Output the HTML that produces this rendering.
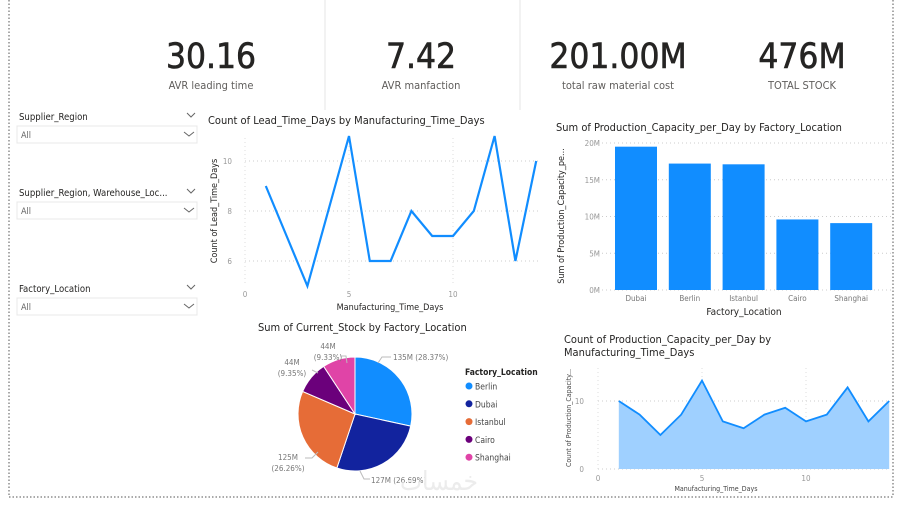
<!DOCTYPE html>
<html><head><meta charset="utf-8"><style>
body{margin:0;background:#fff;width:899px;height:502px;overflow:hidden;font-family:"DejaVu Sans Condensed","Liberation Sans",sans-serif}
svg text{font-family:"DejaVu Sans Condensed","Liberation Sans",sans-serif}
</style></head><body>
<svg id="s" width="899" height="502" xmlns="http://www.w3.org/2000/svg">
<line x1="9" y1="0" x2="9" y2="497" stroke="#555" stroke-dasharray="1.5,2"/>
<line x1="893" y1="0" x2="893" y2="497" stroke="#555" stroke-dasharray="1.5,2"/>
<line x1="9" y1="497" x2="893" y2="497" stroke="#555" stroke-dasharray="1.5,2"/>
<line x1="325" y1="0" x2="325" y2="110" stroke="#e4e4e4"/>
<line x1="520" y1="0" x2="520" y2="110" stroke="#e4e4e4"/>
<g><text x="211" y="68" font-size="35" text-anchor="middle" fill="#252423" stroke="#252423" stroke-width="0.6">30.16</text><text x="211" y="89" font-size="11" text-anchor="middle" fill="#605e5c">AVR leading time</text></g>
<g><text x="421" y="68" font-size="35" text-anchor="middle" fill="#252423" stroke="#252423" stroke-width="0.6">7.42</text><text x="421" y="89" font-size="11" text-anchor="middle" fill="#605e5c">AVR manfaction</text></g>
<g><text x="618" y="68" font-size="35" text-anchor="middle" fill="#252423" stroke="#252423" stroke-width="0.6">201.00M</text><text x="618" y="89" font-size="11" text-anchor="middle" fill="#605e5c">total raw material cost</text></g>
<g><text x="802" y="68" font-size="35" text-anchor="middle" fill="#252423" stroke="#252423" stroke-width="0.6">476M</text><text x="802" y="89" font-size="11" text-anchor="middle" fill="#605e5c">TOTAL STOCK</text></g>
<g id="slicers"></g>
<g id="line1"></g><g id="bar1"></g><g id="pie1"></g><g id="area1"></g>
<text x="400" y="490" font-size="26" fill="#ececec">خمسات</text>
</svg>
<script>
const NS="http://www.w3.org/2000/svg";
function mk(p,t,a,txt){const e=document.createElementNS(NS,t);for(const k in a)e.setAttribute(k,a[k]);if(txt!==undefined)e.textContent=txt;p.appendChild(e);return e;}
// slicers
const slicerTitles=["Supplier_Region","Supplier_Region, Warehouse_Loc...","Factory_Location"];
const slicerYs=[116,192,288];
const sg=document.getElementById('slicers');
slicerTitles.forEach((t,i)=>{const y=slicerYs[i];
 const g=mk(sg,'g',{});
 
 
 mk(g,'text',{x:19,y:y+4,'font-size':9.5,fill:'#252423'},t);
 mk(g,'path',{d:`M187 ${y-3} l4 4 l4 -4`,fill:'none',stroke:'#666'});
 const box=mk(g,'rect',{x:17,y:y+10,width:180,height:17,fill:'#fff',stroke:'#e8e8e8'});
 
 
 mk(g,'text',{x:21,y:y+22,'font-size':9,fill:'#666'},'All');
 mk(g,'path',{d:`M184 ${y+16} l5 4 l5 -4`,fill:'none',stroke:'#666'});
});
// line chart
const lineX=[1,2,3,4,5,6,7,8,9,10,11,12,13,14];
const lineY=[9,7,5,8,11,6,6,8,7,7,8,11,6,10];
const lineXTicks=[0,5,10];const lineYTicks=[6,8,10];
(function(){const g=document.getElementById('line1');
 
 const sx=v=>245+v*20.8, sy=v=>161-(v-10)*25;
 mk(g,'text',{x:208,y:124,'font-size':11,fill:'#252423'},'Count of Lead_Time_Days by Manufacturing_Time_Days');
 lineYTicks.forEach(v=>{mk(g,'line',{x1:245,x2:540,y1:sy(v),y2:sy(v),stroke:'#ccc','stroke-dasharray':'1,3'});mk(g,'text',{x:232,y:sy(v)+3,'font-size':8,fill:'#999','text-anchor':'end'},v);});
 lineXTicks.forEach(v=>{mk(g,'line',{x1:sx(v),x2:sx(v),y1:138,y2:285,stroke:'#ddd','stroke-dasharray':'1,3'});mk(g,'text',{x:sx(v),y:297,'font-size':8,fill:'#999','text-anchor':'middle'},v);});
 mk(g,'text',{x:390,y:310,'font-size':9,fill:'#252423','text-anchor':'middle'},'Manufacturing_Time_Days');
 mk(g,'text',{x:217,y:211,'font-size':9,fill:'#252423','text-anchor':'middle',transform:'rotate(-90 217 211)'},'Count of Lead_Time_Days');
 const p=mk(g,'polyline',{points:lineX.map((x,i)=>sx(x)+','+sy(lineY[i])).join(' '),fill:'none',stroke:'#118dff','stroke-width':2.2});
 
})();
// bar chart
const barCats=["Dubai","Berlin","Istanbul","Cairo","Shanghai"];
const barVals=[19.5,17.2,17.1,9.6,9.1];
const barTicks=[0,5,10,15,20];
(function(){const g=document.getElementById('bar1');
 
 const sy=v=>290-v*7.35;
 mk(g,'text',{x:556,y:131,'font-size':11,fill:'#252423'},'Sum of Production_Capacity_per_Day by Factory_Location');
 barTicks.forEach(v=>{mk(g,'line',{x1:594,x2:892,y1:sy(v),y2:sy(v),stroke:'#ccc','stroke-dasharray':'1,3'});mk(g,'text',{x:600,y:sy(v)+3,'font-size':8,fill:'#999','text-anchor':'end'},v+'M');});
 barCats.forEach((c,i)=>{const x=609+i*53.8+6;
  const r=mk(g,'rect',{x:x,y:sy(barVals[i]),width:42,height:barVals[i]*7.35,fill:'#118dff'});
  
  mk(g,'text',{x:x+21,y:301,'font-size':8,fill:'#777','text-anchor':'middle'},c);});
 mk(g,'text',{x:744,y:315,'font-size':10,fill:'#252423','text-anchor':'middle'},'Factory_Location');
 mk(g,'text',{x:564,y:216,'font-size':9,fill:'#252423','text-anchor':'middle',transform:'rotate(-90 564 216)'},'Sum of Production_Capacity_pe...');
})();
// pie
const pieCats=["Berlin","Dubai","Istanbul","Cairo","Shanghai"];
const pieVals=[135,127,125,44,44];
const piePct=["28.37%","26.69%","26.26%","9.35%","9.33%"];
const pieColors=["#118dff","#12239e","#e66c37","#6b007b","#e044a7"];
(function(){const g=document.getElementById('pie1');
 
 mk(g,'text',{x:258,y:331,'font-size':11,fill:'#252423'},'Sum of Current_Stock by Factory_Location');
 const cx=355,cy=414,r=57,tot=pieVals.reduce((a,b)=>a+b,0);let a=0;
 pieVals.forEach((v,i)=>{const a1=a+v/tot*2*Math.PI;
  const p=(t,rr)=>[cx+rr*Math.sin(t),cy-rr*Math.cos(t)];
  const [x0,y0]=p(a,r),[x1,y1]=p(a1,r);
  const s=mk(g,'path',{d:`M${cx},${cy}L${x0},${y0}A${r},${r} 0 ${a1-a>Math.PI?1:0} 1 ${x1},${y1}Z`,fill:pieColors[i],stroke:'#fff','stroke-width':1});
  
  a=a1;});
 mk(g,'text',{x:393,y:360,'font-size':8,fill:'#777'},pieVals[0]+'M ('+piePct[0]+')');
 mk(g,'path',{d:'M378 363 L382 357 L391 357',fill:'none',stroke:'#bbb'});
 mk(g,'text',{x:371,y:483,'font-size':8,fill:'#777'},pieVals[1]+'M ('+piePct[1]+')');
 mk(g,'path',{d:'M360 471 L364 479 L370 479',fill:'none',stroke:'#bbb'});
 mk(g,'text',{x:288,y:460,'font-size':8,fill:'#777','text-anchor':'middle'},pieVals[2]+'M');
 mk(g,'text',{x:288,y:471,'font-size':8,fill:'#777','text-anchor':'middle'},'('+piePct[2]+')');
 mk(g,'path',{d:'M305 458 L312 458 L318 452',fill:'none',stroke:'#bbb'});
 mk(g,'text',{x:292,y:365,'font-size':8,fill:'#777','text-anchor':'middle'},pieVals[3]+'M');
 mk(g,'text',{x:292,y:376,'font-size':8,fill:'#777','text-anchor':'middle'},'('+piePct[3]+')');
 mk(g,'path',{d:'M312 370 L318 373',fill:'none',stroke:'#bbb'});
 mk(g,'text',{x:328,y:349,'font-size':8,fill:'#777','text-anchor':'middle'},pieVals[4]+'M');
 mk(g,'text',{x:328,y:360,'font-size':8,fill:'#777','text-anchor':'middle'},'('+piePct[4]+')');
 mk(g,'path',{d:'M340 356 L346 356 L347 363',fill:'none',stroke:'#bbb'});
 mk(g,'text',{x:465,y:375,'font-size':8.5,fill:'#252423','font-weight':'bold'},'Factory_Location');
 pieCats.forEach((c,i)=>{const y=386+i*17.8;
  const lg=mk(g,'g',{});
  mk(lg,'circle',{cx:469,cy:y,r:3.5,fill:pieColors[i]});
  mk(lg,'text',{x:475,y:y+3.5,'font-size':8.5,fill:'#444'},c);});
})();
// area chart
const areaX=[1,2,3,4,5,6,7,8,9,10,11,12,13,14];
const areaY=[10,8,5,8,13,7,6,8,9,7,8,12,7,10];
const areaXTicks=[0,5,10];const areaYTicks=[0,10];
(function(){const g=document.getElementById('area1');
 
 const sx=v=>598+v*20.8, sy=v=>469-v*6.8;
 mk(g,'text',{x:564,y:343,'font-size':11,fill:'#252423'},'Count of Production_Capacity_per_Day by');
 mk(g,'text',{x:564,y:356,'font-size':11,fill:'#252423'},'Manufacturing_Time_Days');
 areaYTicks.forEach(v=>{mk(g,'line',{x1:598,x2:890,y1:sy(v),y2:sy(v),stroke:'#ccc','stroke-dasharray':'1,3'});mk(g,'text',{x:584,y:sy(v)+3,'font-size':8,fill:'#999','text-anchor':'end'},v);});
 areaXTicks.forEach(v=>{mk(g,'line',{x1:sx(v),x2:sx(v),y1:368,y2:469,stroke:'#ddd','stroke-dasharray':'1,3'});mk(g,'text',{x:sx(v),y:481,'font-size':8,fill:'#999','text-anchor':'middle'},v);});
 const pts=areaX.map((x,i)=>sx(x)+','+sy(areaY[i]));
 const ar=mk(g,'polygon',{points:sx(areaX[0])+','+sy(0)+' '+pts.join(' ')+' '+sx(areaX[areaX.length-1])+','+sy(0),fill:'#9fd0ff'});
 
 const ln=mk(g,'polyline',{points:pts.join(' '),fill:'none',stroke:'#118dff','stroke-width':1.8});
 
 mk(g,'text',{x:716,y:491,'font-size':7,fill:'#444','text-anchor':'middle'},'Manufacturing_Time_Days');
 mk(g,'text',{x:571,y:418,'font-size':7,fill:'#444','text-anchor':'middle',transform:'rotate(-90 571 418)'},'Count of Production_Capacity...');
})();
</script>
</body></html>
